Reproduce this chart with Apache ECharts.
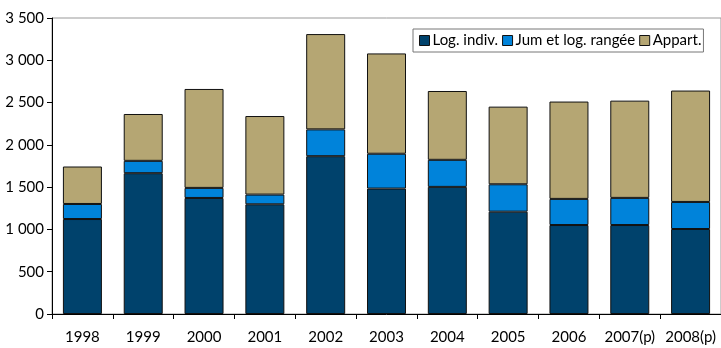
<!DOCTYPE html>
<html><head><meta charset="utf-8">
<script src="https://cdn.jsdelivr.net/npm/echarts@6/dist/echarts.min.js"></script>
<style>html,body{margin:0;padding:0;background:#fff}#c{width:721px;height:348px}</style>
</head><body><div id="c"></div>
<script>
const categories = ['1998','1999','2000','2001','2002','2003','2004','2005','2006','2007(p)','2008(p)'];
const logIndiv = [1123,1665,1372,1297,1866,1483,1503,1210,1052,1052,1005];
const jumRangee = [178,146,119,115,317,412,320,324,309,321,320];
const appart = [443,554,1170,929,1127,1186,814,918,1151,1150,1317];
const seriesNames = ['Log. indiv.','Jum et log. rangée','Appart.'];
const colors = ['#00426C','#0083DA','#B5A673'];
const yTicks = [0,500,1000,1500,2000,2500,3000,3500];

const font = 'Lato, "Open Sans", sans-serif';
const chart = echarts.init(document.getElementById('c'));
function mk(name, data, color){
  return {name, type:'bar', stack:'t', data, barWidth:39,
    itemStyle:{color, borderColor:'#111', borderWidth:1}};
}
chart.setOption({
  animation:false,
  textStyle:{fontFamily:font},
  grid:{left:52, top:18, bottom:34, right:-4, show:true, borderColor:'#999', borderWidth:1},
  legend:{left:413, top:29, orient:'horizontal',
    backgroundColor:'#fff', borderColor:'#777', borderWidth:1, padding:[4,2,4,6],
    itemWidth:10, itemHeight:10, itemGap:4,
    textStyle:{fontFamily:font, fontSize:15, color:'#000', padding:[0,0,0,-2]},
    data:seriesNames.map(n=>({name:n, icon:'rect', itemStyle:{borderColor:'#111', borderWidth:1}}))},
  xAxis:{type:'category', data:categories,
    axisLine:{lineStyle:{color:'#000', width:1}},
    axisTick:{show:true, length:5, interval:0, lineStyle:{color:'#000'}},
    axisLabel:{color:'#000', fontSize:15, fontFamily:font, margin:16, interval:0}},
  yAxis:{type:'value', min:yTicks[0], max:yTicks[yTicks.length-1], interval:500,
    axisLine:{show:true, lineStyle:{color:'#000', width:1}},
    axisTick:{show:true, length:5, lineStyle:{color:'#000'}},
    splitLine:{show:false},
    axisLabel:{color:'#000', fontSize:15, fontFamily:font, margin:8,
      formatter:v=>String(v).replace(/\B(?=(\d{3})+(?!\d))/g,' ')}},
  series:[mk(seriesNames[0],logIndiv,colors[0]), mk(seriesNames[1],jumRangee,colors[1]), mk(seriesNames[2],appart,colors[2])]
});
</script></body></html>
